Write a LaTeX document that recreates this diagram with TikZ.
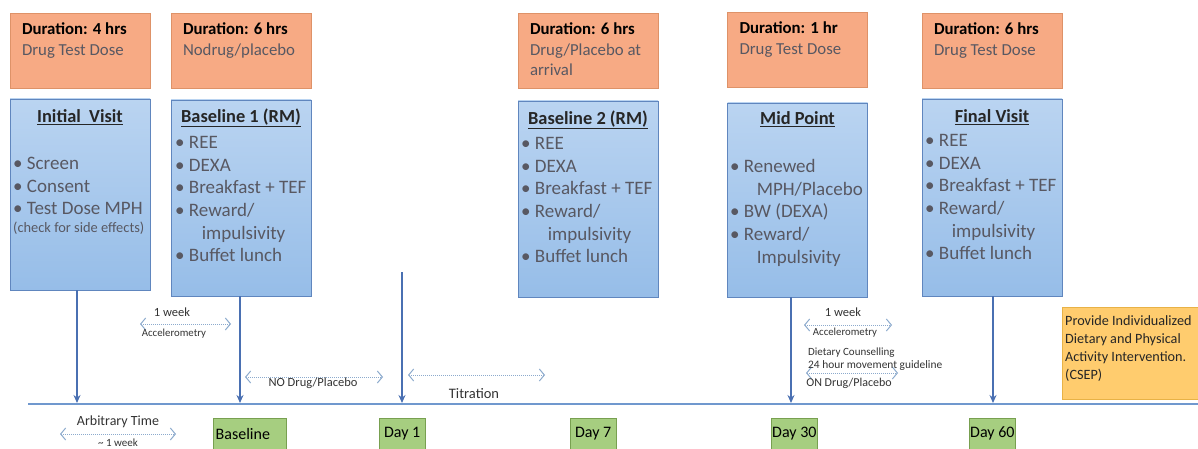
\documentclass[tikz,border=0pt]{standalone}
\usepackage{fontspec}
\setmainfont{Carlito}
\usetikzlibrary{arrows.meta}

\definecolor{doseline}{RGB}{222,146,104}
\definecolor{dosefill}{RGB}{247,170,132}
\definecolor{visitline}{RGB}{96,134,190}
\definecolor{visittop}{RGB}{186,212,241}
\definecolor{visitbot}{RGB}{150,189,232}
\definecolor{dayline}{RGB}{120,160,80}
\definecolor{dayfill}{RGB}{166,206,128}
\definecolor{noteline}{RGB}{232,178,70}
\definecolor{notefill}{RGB}{255,204,110}
\definecolor{arrowblue}{RGB}{74,112,178}
\definecolor{lineblue}{RGB}{112,152,206}
\definecolor{dotblue}{RGB}{140,170,205}
\definecolor{txtgray}{RGB}{88,88,98}

\tikzset{
  dosebox/.style={draw=doseline,fill=dosefill,minimum width=140pt,minimum height=75pt,inner sep=0pt},
  dosetext/.style={anchor=north west,align=left,inner sep=0pt,font=\fontsize{16.8}{20.5}\selectfont},
  visitbox/.style={draw=visitline,top color=visittop,bottom color=visitbot,minimum width=140pt,inner sep=0pt},
  visittitle/.style={font=\bfseries\fontsize{18.4}{21}\selectfont,text=black!85,inner sep=0pt},
  visitlist/.style={anchor=north west,align=left,inner sep=0pt,text=txtgray,font=\fontsize{19}{22.7}\selectfont},
  daybox/.style={draw=dayline,fill=dayfill,anchor=north west,minimum height=31pt,minimum width=46pt,inner xsep=1pt,inner ysep=2pt,font=\fontsize{16}{18}\selectfont},
  mainarrow/.style={draw=arrowblue,line width=1.7pt,-{Stealth[length=8pt,width=7pt]}},
  spanarrow/.style={draw=dotblue,densely dotted,line width=1pt,{Straight Barb[length=5pt,width=12pt]}-{Straight Barb[length=5pt,width=12pt]}},
  small/.style={inner sep=0pt,text=black!80}
}

\newcommand{\bul}{\textbullet~}

\begin{document}
\begin{tikzpicture}[x=1pt,y=-1pt]
  \clip (0,0) rectangle (1198,449);
  \fill[white] (0,0) rectangle (1198,449);

  % duration boxes
  \node[dosebox] (d1) at (80,50.5) {};
  \node[dosebox] (d2) at (241,50.5) {};
  \node[dosebox] (d3) at (588,50.5) {};
  \node[dosebox] (d4) at (797.5,49.5) {};
  \node[dosebox] (d5) at (992,50.5) {};
  \node[dosetext] (d1t) at ([shift={(12,10)}]d1.north west)
    {\textbf{Duration: 4 hrs}\\\textcolor{txtgray}{Drug Test Dose}};
  \node[dosetext] (d2t) at ([shift={(12,10)}]d2.north west)
    {\textbf{Duration: 6 hrs}\\\textcolor{txtgray}{Nodrug/placebo}};
  \node[dosetext] (d3t) at ([shift={(12,10)}]d3.north west)
    {\textbf{Duration: 6 hrs}\\\textcolor{txtgray}{Drug/Placebo at}\\\textcolor{txtgray}{arrival}};
  \node[dosetext] (d4t) at ([shift={(12,10)}]d4.north west)
    {\textbf{Duration: 1 hr}\\\textcolor{txtgray}{Drug Test Dose}};
  \node[dosetext] (d5t) at ([shift={(12,10)}]d5.north west)
    {\textbf{Duration: 6 hrs}\\\textcolor{txtgray}{Drug Test Dose}};

  % visit boxes
  \node[visitbox,minimum height=191pt] (v1) at (80,194.5) {};
  \node[visitbox,minimum height=196pt] (v2) at (241,198) {};
  \node[visitbox,minimum height=196pt] (v3) at (588,199) {};
  \node[visitbox,minimum height=194pt] (v4) at (797.5,200) {};
  \node[visitbox,minimum height=197pt] (v5) at (992,197.5) {};

  \node[visittitle] (v1h) at (80,117) {\underline{Initial\ \ Visit}};
  \node[visittitle] (v2h) at (241,118) {\underline{Baseline 1 (RM)}};
  \node[visittitle] (v3h) at (588,120) {\underline{Baseline 2 (RM)}};
  \node[visittitle] (v4h) at (797.5,119) {\underline{Mid Point}};
  \node[visittitle] (v5h) at (992,117) {\underline{Final Visit}};

  \node[visitlist] (v1l) at (13,157)
    {\bul Screen\\\bul Consent\\\bul Test Dose MPH\\[-5pt]
     {\fontsize{14.4}{16}\selectfont(check for side effects)}};
  \node[visitlist] (v2l) at (175,136)
    {\bul REE\\\bul DEXA\\\bul Breakfast + TEF\\\bul Reward/\\\hspace*{1.4em}impulsivity\\\bul Buffet lunch};
  \node[visitlist] (v3l) at (521,137)
    {\bul REE\\\bul DEXA\\\bul Breakfast + TEF\\\bul Reward/\\\hspace*{1.4em}impulsivity\\\bul Buffet lunch};
  \node[visitlist] (v4l) at (730,159)
    {\bul Renewed\\\hspace*{1.4em}MPH/Placebo\\\bul BW (DEXA)\\\bul Reward/\\\hspace*{1.4em}Impulsivity};
  \node[visitlist] (v5l) at (925,134)
    {\bul REE\\\bul DEXA\\\bul Breakfast + TEF\\\bul Reward/\\\hspace*{1.4em}impulsivity\\\bul Buffet lunch};

  % timeline
  \coordinate (tl0) at (28,404);
  \coordinate (tl1) at (1198,404);
  \draw[draw=lineblue,line width=1.3pt] (tl0) -- (tl1);
  \coordinate (t1) at (77,403);
  \coordinate (t2) at (240,403);
  \coordinate (t3) at (402,403);
  \coordinate (t3top) at (402,272);
  \coordinate (t4) at (791,403);
  \coordinate (t5) at (993,403);
  \draw[mainarrow] (t1 |- v1.south) -- (t1);
  \draw[mainarrow] (t2 |- v2.south) -- (t2);
  \draw[mainarrow] (t3top) -- (t3);
  \draw[mainarrow] (t4 |- v4.south) -- (t4);
  \draw[mainarrow] (t5 |- v5.south) -- (t5);

  % day boxes
  \node[daybox,minimum width=73pt,align=left,text width=68pt] (b0) at (213,418) {Baseline};
  \node[daybox] (b1) at (379,418) {Day 1};
  \node[daybox] (b7) at (570,418) {Day 7};
  \node[daybox] (b30) at (771,418) {Day 30};
  \node[daybox] (b60) at (969,418) {Day 60};

  % spans
  \coordinate (s1a) at (140,324); \coordinate (s1b) at (231,324);
  \draw[spanarrow] (s1a) -- (s1b);
  \node[small,font=\fontsize{12.5}{14}\selectfont] (s1t) at (172,312) {1 week};
  \node[small,font=\fontsize{10.8}{12}\selectfont] (s1u) at (174,334) {Accelerometry};

  \coordinate (s2a) at (245,377); \coordinate (s2b) at (383,377);
  \draw[spanarrow] (s2a) -- (s2b);
  \node[small,font=\fontsize{12.5}{14}\selectfont] (s2t) at (313,383) {NO Drug/Placebo};

  \coordinate (s3a) at (408,375); \coordinate (s3b) at (545,375);
  \draw[spanarrow] (s3a) -- (s3b);
  \node[small,font=\fontsize{14.5}{16}\selectfont] (s3t) at (474,394) {Titration};

  \coordinate (s4a) at (60,434); \coordinate (s4b) at (176,434);
  \draw[spanarrow] (s4a) -- (s4b);
  \node[small,font=\fontsize{14}{16}\selectfont] (s4t) at (118,422) {Arbitrary Time};
  \node[small,font=\fontsize{11}{13}\selectfont] (s4u) at (118,442.5) {\textasciitilde\ 1 week};

  \coordinate (s5a) at (804,325); \coordinate (s5b) at (892,325);
  \draw[spanarrow] (s5a) -- (s5b);
  \node[small,font=\fontsize{12.5}{14}\selectfont] (s5t) at (843,312) {1 week};
  \node[small,font=\fontsize{10.8}{12}\selectfont] (s5u) at (845,333) {Accelerometry};

  \coordinate (s6a) at (806,373); \coordinate (s6b) at (898,373);
  \draw[spanarrow] (s6a) -- (s6b);
  \node[small,anchor=west,font=\fontsize{11}{12}\selectfont] (s6t) at (808,353) {Dietary Counselling};
  \node[small,anchor=west,font=\fontsize{11.4}{12}\selectfont] (s6u) at (808,366) {24 hour movement guideline};
  \node[small,font=\fontsize{12}{13}\selectfont] (s6v) at (849,383) {ON Drug/Placebo};

  % intervention note
  \node[draw=noteline,fill=notefill,anchor=north west,minimum width=150pt,minimum height=92pt] (csep) at (1062,307) {};
  \node[anchor=north west,align=left,inner sep=0pt,text=black!85,font=\fontsize{14.2}{18.3}\selectfont] (csept) at (1065,315)
    {Provide Individualized\\Dietary and Physical\\Activity Intervention.\\(CSEP)};
\end{tikzpicture}
\end{document}
